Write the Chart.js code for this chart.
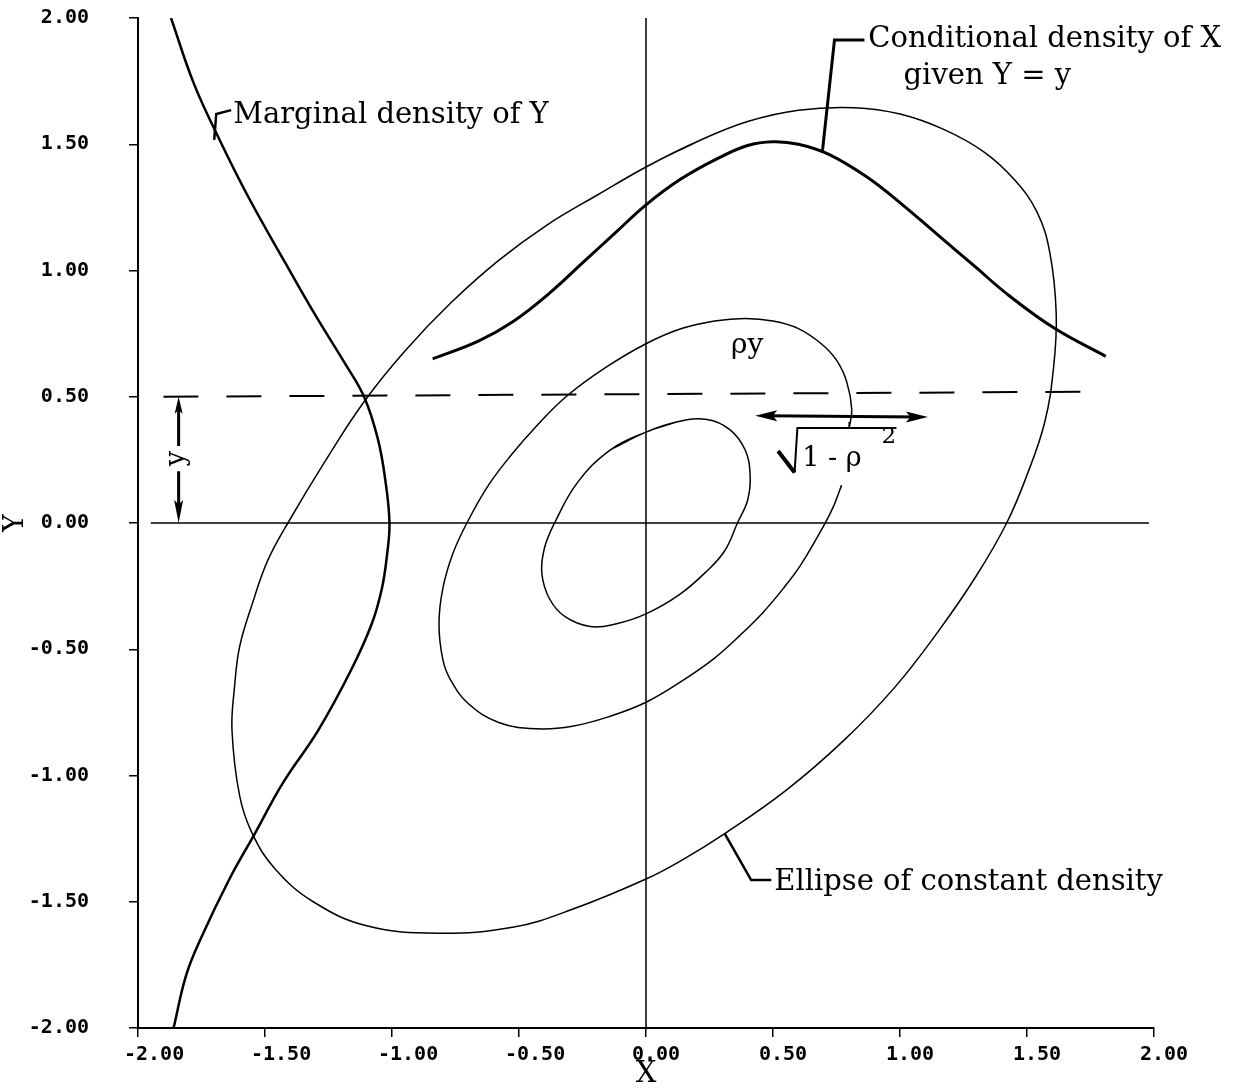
<!DOCTYPE html>
<html>
<head>
<meta charset="utf-8">
<script src="https://cdn.jsdelivr.net/npm/chart.js@4.4.0/dist/chart.umd.min.js"></script>
<style>
html, body { margin: 0; padding: 0; background: #fff; }
</style>
</head>
<body>
<canvas id="densite" width="1247" height="1092"></canvas>
<script>
const tickValues = [-2, -1.5, -1, -0.5, 0, 0.5, 1, 1.5, 2];

// ellipse exterieure (les premiers et derniers points se recouvrent pour fermer la courbe)
const outerX = [-0.19, 0.00, 0.20, 0.40, 0.60, 0.82, 1.00, 1.17, 1.33, 1.45, 1.54, 1.59, 1.615, 1.605, 1.57, 1.50, 1.42, 1.30, 1.15, 0.98, 0.78, 0.55, 0.31, 0.15, 0.00, -0.29, -0.52, -0.82, -1.10, -1.31, -1.46, -1.55, -1.60, -1.63, -1.62, -1.60, -1.55, -1.49, -1.41, -1.26, -1.11, -0.95, -0.77, -0.58, -0.39, -0.19, 0.00, 0.20];
const outerY = [1.30, 1.41, 1.51, 1.59, 1.635, 1.645, 1.62, 1.56, 1.47, 1.36, 1.23, 1.07, 0.83, 0.62, 0.40, 0.19, 0.00, -0.21, -0.43, -0.65, -0.86, -1.06, -1.23, -1.33, -1.41, -1.53, -1.60, -1.625, -1.595, -1.50, -1.37, -1.23, -1.08, -0.82, -0.65, -0.49, -0.32, -0.15, 0.00, 0.25, 0.48, 0.68, 0.87, 1.04, 1.18, 1.30, 1.41, 1.51];

// ellipse du milieu (ouverte autour du texte)
const midX = [0.80, 0.81, 0.79, 0.75, 0.69, 0.60, 0.50, 0.39, 0.27, 0.14, 0.00, -0.16, -0.315, -0.43, -0.53, -0.62, -0.70, -0.76, -0.80, -0.815, -0.80, -0.77, -0.70, -0.58, -0.43, -0.29, -0.14, 0.00, 0.15, 0.27, 0.37, 0.46, 0.54, 0.61, 0.70, 0.74, 0.77];
const midY = [0.376, 0.45, 0.56, 0.645, 0.71, 0.77, 0.80, 0.81, 0.80, 0.77, 0.71, 0.615, 0.50, 0.385, 0.27, 0.15, 0.01, -0.12, -0.26, -0.40, -0.54, -0.62, -0.715, -0.79, -0.815, -0.805, -0.765, -0.71, -0.62, -0.535, -0.445, -0.355, -0.26, -0.165, -0.01, 0.07, 0.15];

// ellipse interieure
const innerX = [-0.14, 0.00, 0.12, 0.24, 0.33, 0.39, 0.41, 0.40, 0.36, 0.31, 0.24, 0.13, 0.00, -0.12, -0.22, -0.32, -0.38, -0.41, -0.40, -0.36, -0.27, -0.14, 0.00, 0.12];
const innerY = [0.29, 0.36, 0.40, 0.41, 0.37, 0.29, 0.19, 0.09, 0.00, -0.11, -0.19, -0.285, -0.36, -0.40, -0.41, -0.37, -0.30, -0.20, -0.10, 0.00, 0.16, 0.29, 0.36, 0.40];

// densite conditionnelle de X sachant Y = y
const condX = [-0.84, -0.66, -0.52, -0.38, -0.25, -0.12, 0.00, 0.134, 0.275, 0.40, 0.50, 0.60, 0.72, 0.87, 1.01, 1.15, 1.29, 1.43, 1.61, 1.81];
const condY = [0.65, 0.72, 0.80, 0.91, 1.03, 1.15, 1.26, 1.36, 1.44, 1.495, 1.51, 1.50, 1.46, 1.37, 1.26, 1.14, 1.02, 0.90, 0.77, 0.66];

// densite marginale de Y
const margX = [-1.87, -1.78, -1.68, -1.565, -1.42, -1.30, -1.19, -1.11, -1.055, -1.025, -1.01, -1.02, -1.04, -1.08, -1.16, -1.29, -1.43, -1.54, -1.64, -1.75, -1.81, -1.86];
const margY = [2.00, 1.74, 1.52, 1.29, 1.03, 0.82, 0.64, 0.50, 0.33, 0.16, 0.00, -0.13, -0.26, -0.40, -0.58, -0.82, -1.03, -1.23, -1.41, -1.64, -1.79, -2.00];

// droites de reference
const zeroX = [-1.95, 1.98], zeroY = [0, 0];
const vertX = [0, 0], vertY = [-2, 2];
const givenX = [-1.90, 1.76], givenY = [0.50, 0.52];

const toPoints = (xs, ys) => xs.map((v, i) => ({ x: v, y: ys[i] }));

const serif = 'DejaVu Serif';

// ....... annotations (textes, fleches) .......
const annotations = {
    id: 'annotations',
    afterDatasetsDraw(chart) {
        const ctx = chart.ctx;
        const X = v => chart.scales.x.getPixelForValue(v);
        const Y = v => chart.scales.y.getPixelForValue(v);
        ctx.save();
        ctx.strokeStyle = '#000';
        ctx.fillStyle = '#000';
        ctx.lineCap = 'butt';
        ctx.lineJoin = 'miter';

        const line = (pts, w) => {
            ctx.lineWidth = w;
            ctx.beginPath();
            pts.forEach((p, i) => i ? ctx.lineTo(X(p[0]), Y(p[1])) : ctx.moveTo(X(p[0]), Y(p[1])));
            ctx.stroke();
        };
        const head = (tx, ty, dx, dy, len, half) => {
            const nx = -dy, ny = dx;
            ctx.beginPath();
            ctx.moveTo(tx, ty);
            ctx.lineTo(tx - dx * len + nx * half, ty - dy * len + ny * half);
            ctx.lineTo(tx - dx * len * 0.8, ty - dy * len * 0.8);
            ctx.lineTo(tx - dx * len - nx * half, ty - dy * len - ny * half);
            ctx.closePath();
            ctx.fill();
        };
        const text = (s, x, y, size) => {
            ctx.font = size + 'px "' + serif + '"';
            ctx.textAlign = 'left';
            ctx.textBaseline = 'alphabetic';
            ctx.fillText(s, X(x), Y(y));
        };

        // Marginal density of Y
        line([[-1.70, 1.517], [-1.692, 1.62], [-1.633, 1.635]], 2.5);
        text('Marginal density of Y', -1.625, 1.584, 29);

        // Conditional density of X given Y = y
        line([[0.694, 1.467], [0.742, 1.913], [0.86, 1.913]], 3);
        text('Conditional density of X', 0.875, 1.885, 29);
        text('given Y = y', 1.014, 1.739, 29);

        // Ellipse of constant density
        line([[0.31, -1.23], [0.414, -1.414], [0.493, -1.414]], 2.5);
        text('Ellipse of constant density', 0.505, -1.453, 29);

        // rho y
        text('\u03C1y', 0.335, 0.673, 28);

        // fleche horizontale
        const ay1 = Y(0.425), ay2 = Y(0.42);
        ctx.lineWidth = 3;
        ctx.beginPath();
        ctx.moveTo(X(0.43) + 10, ay1);
        ctx.lineTo(X(1.11) - 10, ay2);
        ctx.stroke();
        head(X(0.43), ay1, -1, 0, 22, 5.5);
        head(X(1.11), ay2, 1, 0, 22, 5.5);

        // racine carree
        line([[0.80, 0.376], [0.80, 0.40]], 1.5);
        ctx.lineWidth = 4;
        ctx.beginPath();
        ctx.moveTo(X(0.52), Y(0.285));
        ctx.lineTo(X(0.585), Y(0.20));
        ctx.stroke();
        line([[0.585, 0.20], [0.596, 0.376], [0.986, 0.376]], 2);
        text('1 - \u03C1', 0.615, 0.226, 27);
        text('2', 0.927, 0.317, 23);

        // fleche verticale y
        const vx = X(-1.84);
        ctx.lineWidth = 3;
        ctx.beginPath();
        ctx.moveTo(vx, Y(0.5) + 12); ctx.lineTo(vx, Y(0.305));
        ctx.moveTo(vx, Y(0.205)); ctx.lineTo(vx, Y(0.0) - 16);
        ctx.stroke();
        head(vx, Y(0.5), 0, -1, 17, 4);
        head(vx, Y(0.0), 0, 1, 23, 4.5);
        ctx.save();
        ctx.translate(vx, Y(0.255));
        ctx.rotate(-Math.PI / 2);
        ctx.font = '27px "' + serif + '"';
        ctx.textAlign = 'center';
        ctx.textBaseline = 'middle';
        ctx.fillText('y', 0, -2);
        ctx.restore();

        ctx.restore();
    }
};

const thin = { borderColor: '#000', borderWidth: 1.5, pointRadius: 0, showLine: true, fill: false };
const tickFont = { family: 'DejaVu Sans Mono', size: 20, weight: 'bold' };

const ctx = document.getElementById('densite').getContext('2d');
const chart = new Chart(ctx, {
    type: 'scatter',
    data: {
        datasets: [
            { ...thin, data: toPoints(zeroX, zeroY), tension: 0 },
            { ...thin, data: toPoints(vertX, vertY), tension: 0 },
            { ...thin, data: toPoints(givenX, givenY), tension: 0, borderDash: [35, 28], borderWidth: 2 },
            { ...thin, data: toPoints(outerX, outerY), tension: 0.4 },
            { ...thin, data: toPoints(midX, midY), tension: 0.4 },
            { ...thin, data: toPoints(innerX, innerY), tension: 0.4 },
            { ...thin, data: toPoints(condX, condY), tension: 0.4, borderWidth: 3 },
            { ...thin, data: toPoints(margX, margY), tension: 0.4, borderWidth: 2.5 }
        ]
    },
    options: {
        responsive: false,
        animation: false,
        layout: { padding: { top: 18, right: 93, left: 0, bottom: 0 } },
        plugins: {
            legend: { display: false },
            tooltip: { enabled: false }
        },
        scales: {
            x: {
                type: 'linear',
                position: 'bottom',
                min: -2,
                max: 2,
                afterFit: s => { s.height = 64; s.paddingLeft = 0; s.paddingRight = 0; },
                afterBuildTicks: s => { s.ticks = tickValues.map(v => ({ value: v })); },
                border: { display: true, color: '#000', width: 2 },
                grid: { drawOnChartArea: false, drawTicks: true, tickLength: 9, color: '#000', lineWidth: 1.5 },
                ticks: {
                    align: 'start',
                    labelOffset: -14,
                    padding: 6,
                    maxRotation: 0,
                    autoSkip: false,
                    color: '#000',
                    font: tickFont,
                    callback: v => v.toFixed(2)
                },
                title: { display: true, text: 'X', color: '#000', font: { family: serif, size: 29 }, padding: 0 }
            },
            y: {
                type: 'linear',
                min: -2,
                max: 2,
                afterFit: s => { s.width = 138; s.paddingTop = 0; s.paddingBottom = 0; },
                afterBuildTicks: s => { s.ticks = tickValues.map(v => ({ value: v })); },
                border: { display: true, color: '#000', width: 2 },
                grid: { drawOnChartArea: false, drawTicks: true, tickLength: 9, color: '#000', lineWidth: 1.5 },
                ticks: {
                    padding: 40,
                    autoSkip: false,
                    color: '#000',
                    font: tickFont,
                    callback: v => v.toFixed(2)
                },
                title: { display: true, text: 'Y', color: '#000', font: { family: serif, size: 27 }, padding: 0 }
            }
        }
    },
    plugins: [annotations]
});
</script>
</body>
</html>
